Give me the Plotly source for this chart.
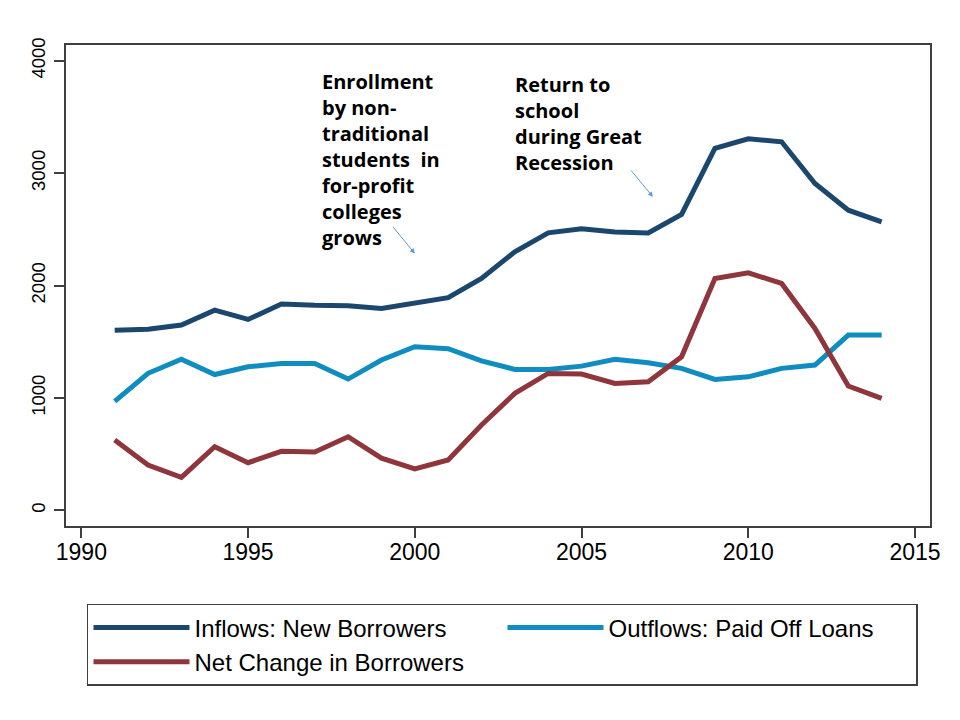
import plotly.graph_objects as go

# values (thousands of borrowers)
years = list(range(1991, 2015))
inflows = [1604, 1613, 1649, 1782, 1699, 1836, 1825, 1821, 1797, 1840, 1893, 2064,
           2301, 2469, 2505, 2476, 2469, 2633, 3220, 3305, 3279, 2908, 2671, 2567]
outflows = [970, 1220, 1345, 1209, 1278, 1307, 1307, 1169, 1338, 1456, 1439, 1330,
            1255, 1255, 1284, 1344, 1314, 1264, 1166, 1189, 1264, 1293, 1560, 1560]
net_change = [627, 404, 295, 567, 425, 526, 520, 656, 465, 369, 449, 760,
              1042, 1219, 1213, 1130, 1145, 1367, 2064, 2114, 2019, 1619, 1107, 997]

x_ticks = [1990, 1995, 2000, 2005, 2010, 2015]
y_ticks = [0, 1000, 2000, 3000, 4000]
grid_vals = [0, 1000, 2000, 3000]

x_range = [1989.54, 2015.45]
y_range = [-138, 4140]

navy = '#1b476e'
blue = '#0f8dc1'
red = '#8f353c'
frame = '#3f3f3f'

fig = go.Figure()

fig.add_trace(go.Scatter(x=years, y=inflows, mode='lines', name='Inflows: New Borrowers',
                         line=dict(color=navy, width=5), yaxis='y2'))
fig.add_trace(go.Scatter(x=years, y=outflows, mode='lines', name='Outflows: Paid Off Loans',
                         line=dict(color=blue, width=5), yaxis='y2'))
fig.add_trace(go.Scatter(x=years, y=net_change, mode='lines', name='Net Change in Borrowers',
                         line=dict(color=red, width=5), yaxis='y2'))

note_font = dict(family='Open Sans', size=20, color='black')
arrow_color = '#5b9bd5'

annotations = [
    dict(x=1997.17, y=3950, xref='x', yref='y2', xanchor='left', yanchor='top', align='left',
         text='<b>Enrollment<br>by non-<br>traditional<br>students  in<br>for-profit<br>colleges<br>grows</b>',
         showarrow=False, font=note_font),
    dict(x=2002.95, y=3925, xref='x', yref='y2', xanchor='left', yanchor='top', align='left',
         text='<b>Return to<br>school<br>during Great<br>Recession</b>',
         showarrow=False, font=note_font),
    dict(x=2000.0, y=2286, xref='x', yref='y2', ax=-23, ay=-28, text='', showarrow=True,
         arrowhead=2, arrowsize=1, arrowwidth=1, arrowcolor=arrow_color),
    dict(x=2007.14, y=2789, xref='x', yref='y2', ax=-23, ay=-28, text='', showarrow=True,
         arrowhead=2, arrowsize=1, arrowwidth=1, arrowcolor=arrow_color),
]

# the page adds an 8px body margin, so the figure margins are shifted to compensate
fig.update_layout(
    width=960, height=720,
    margin=dict(l=58, r=38, t=37, b=202),
    paper_bgcolor='white', plot_bgcolor='white',
    font=dict(family='Liberation Sans, Arial', size=20, color='black'),
    xaxis=dict(range=x_range, tickvals=x_ticks, ticks='outside', ticklen=10, tickwidth=1.5,
               tickcolor=frame, showgrid=False, zeroline=False, showline=True, mirror=True,
               linecolor=frame, linewidth=1.5, tickfont=dict(size=23), ticklabelstandoff=-5,
               automargin=False),
    yaxis=dict(range=y_range, tickvals=grid_vals, showticklabels=False, ticks='',
               showgrid=True, gridcolor='#dedede', gridwidth=2, zeroline=False,
               showline=False, automargin=False),
    yaxis2=dict(range=y_range, tickvals=y_ticks, overlaying='y', side='left', ticks='outside',
                ticklen=10, tickwidth=1.5, tickcolor=frame, tickangle=-90, showgrid=False,
                zeroline=False, showline=True, mirror=True, linecolor=frame, linewidth=1.5,
                tickfont=dict(size=18.5), ticklabelstandoff=2, automargin=False),
    showlegend=True,
    legend=dict(orientation='h', x=0.0243, y=-0.162, xanchor='left', yanchor='top',
                bordercolor=frame, borderwidth=1.5, bgcolor='white',
                font=dict(size=24), itemwidth=96, entrywidth=303, entrywidthmode='pixels',
                tracegroupgap=0),
    annotations=annotations,
)

fig.write_html("out.html")
